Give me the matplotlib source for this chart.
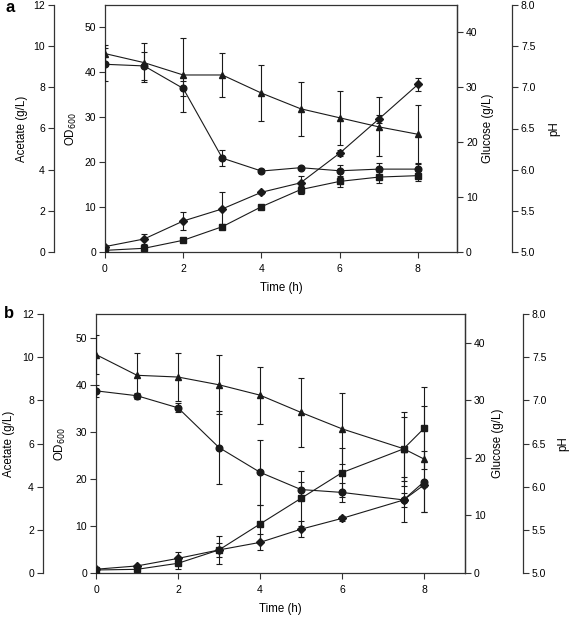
import matplotlib
matplotlib.use("Agg")
import matplotlib.pyplot as plt

plt.rcParams['font.family'] = ['Liberation Sans', 'DejaVu Sans']

# panel a
t_a = [0, 1, 2, 3, 4, 5, 6, 7, 8]
od_a = [1.2, 2.9, 6.9, 9.6, 13.3, 15.4, 22.0, 29.6, 37.3]
od_a_err = [0.3, 1.1, 1.9, 3.8, 0.3, 1.6, 0.7, 0.8, 1.5]
ac_a = [0.08, 0.18, 0.57, 1.23, 2.2, 3.03, 3.43, 3.64, 3.71]
ac_a_err = [0.05, 0.05, 0.1, 0.12, 0.08, 0.2, 0.27, 0.27, 0.28]
glc_a = [34.2, 33.9, 29.8, 17.1, 14.75, 15.36, 14.8, 15.1, 15.1]
glc_a_err = [3.0, 2.6, 1.3, 1.5, 0.4, 0.3, 1.1, 1.1, 1.0]
ph_a = [7.41, 7.30, 7.15, 7.15, 6.93, 6.74, 6.63, 6.52, 6.43]
ph_a_err = [0.11, 0.24, 0.45, 0.27, 0.34, 0.33, 0.33, 0.36, 0.35]

# panel b
t_b = [0, 1, 2, 3, 4, 5, 6, 7.5, 8]
od_b = [0.8, 1.5, 3.1, 4.9, 6.5, 9.3, 11.6, 15.5, 18.7]
od_b_err = [0.3, 0.3, 1.3, 1.4, 1.7, 1.7, 0.6, 1.4, 0.5]
ac_b = [0.14, 0.17, 0.45, 1.07, 2.27, 3.46, 4.65, 5.75, 6.7]
ac_b_err = [0.05, 0.05, 0.27, 0.66, 0.88, 1.26, 1.13, 1.7, 1.9]
glc_b = [31.65, 30.8, 28.7, 21.8, 17.5, 14.5, 14.0, 12.7, 15.85]
glc_b_err = [1.1, 0.5, 0.8, 6.3, 5.6, 1.3, 1.6, 3.9, 5.3]
ph_b = [7.53, 7.29, 7.27, 7.18, 7.06, 6.86, 6.67, 6.44, 6.32]
ph_b_err = [0.23, 0.255, 0.28, 0.34, 0.33, 0.40, 0.41, 0.37, 0.61]

xticks = [0, 2, 4, 6, 8]
od_ticks = [0, 10, 20, 30, 40, 50]
ac_ticks = [0, 2, 4, 6, 8, 10, 12]
glc_ticks = [0, 10, 20, 30, 40]
ph_ticks = [5.0, 5.5, 6.0, 6.5, 7.0, 7.5, 8.0]

lc = '#1a1a1a'
sc = '#333333'
fs_tick = 7.5
fs_lab = 8.3

fig = plt.figure(figsize=(5.72, 6.18), dpi=100)


def series(ax, t, y, e, m, ms):
    ax.errorbar(t, y, yerr=e, color=lc, marker=m, ms=ms, lw=0.8,
                elinewidth=0.8, capsize=2.5, capthick=0.8, mfc=lc, mec=lc)


def style(ax):
    for s in ax.spines.values():
        s.set_color(sc)
        s.set_linewidth(0.9)
    ax.tick_params(axis='y', which='both', direction='out', length=4.5,
                   width=0.8, color=sc, labelsize=fs_tick, pad=2)


def panel(rect, t, od, ode, ac, ace, glc, glce, ph, phe, ac_off, ph_off, lab_x):
    ax = fig.add_axes(rect)
    axg = ax.twinx()
    axa = ax.twinx()
    axp = ax.twinx()

    ax.set_xlim(0, 9)
    ax.set_xticks(xticks)
    ax.set_ylim(0, 55)
    ax.set_yticks(od_ticks)
    axg.set_ylim(0, 45)
    axg.set_yticks(glc_ticks)
    axa.set_ylim(0, 12)
    axa.set_yticks(ac_ticks)
    axp.set_ylim(5, 8)
    axp.set_yticks(ph_ticks)
    axp.set_yticklabels(['%.1f' % v for v in ph_ticks])

    for a in (ax, axg, axa, axp):
        style(a)
    ax.tick_params(axis='x', direction='out', length=4.5, width=0.8, color=sc,
                   labelsize=fs_tick, pad=4)

    axa.spines['left'].set_position(('axes', ac_off))
    axa.yaxis.set_ticks_position('left')
    axa.yaxis.set_label_position('left')
    for s in ('right', 'top', 'bottom'):
        axa.spines[s].set_visible(False)
    axp.spines['right'].set_position(('axes', ph_off))
    for s in ('left', 'top', 'bottom'):
        axp.spines[s].set_visible(False)
    for s in ('left', 'top', 'bottom'):
        axg.spines[s].set_visible(False)

    series(ax, t, od, ode, 'D', 4.2)
    series(axa, t, ac, ace, 's', 4.2)
    series(axg, t, glc, glce, 'o', 4.8)
    series(axp, t, ph, phe, '^', 4.8)

    ax.set_xlabel('Time (h)', fontsize=fs_lab, labelpad=6)
    ax.set_ylabel('OD$_{600}$', fontsize=fs_lab)
    axa.set_ylabel('Acetate (g/L)', fontsize=fs_lab)
    axg.set_ylabel('Glucose (g/L)', fontsize=fs_lab)
    axp.set_ylabel('pH', fontsize=fs_lab)
    ax.yaxis.set_label_coords(lab_x[0], 0.5)
    axa.yaxis.set_label_coords(lab_x[1], 0.5)
    axg.yaxis.set_label_coords(lab_x[2], 0.5)
    axp.yaxis.set_label_coords(lab_x[3], 0.5)
    return ax


panel([105 / 572, 1 - 252 / 618, 352 / 572, 247 / 618],
      t_a, od_a, od_a_err, ac_a, ac_a_err, glc_a, glc_a_err, ph_a, ph_a_err,
      -0.145, 1.156,
      ((79 - 105) / 352, (28 - 105) / 352, (482 - 105) / 352, (548 - 105) / 352))
panel([96 / 572, 1 - 573 / 618, 369 / 572, 259 / 618],
      t_b, od_b, od_b_err, ac_b, ac_b_err, glc_b, glc_b_err, ph_b, ph_b_err,
      -0.1436, 1.157,
      ((68 - 96) / 369, (15 - 96) / 369, (492 - 96) / 369, (557 - 96) / 369))

fig.text(6 / 572, 1 - 8 / 618, 'a', fontsize=12, fontweight='bold', va='center')
fig.text(4 / 572, 1 - 313 / 618, 'b', fontsize=12, fontweight='bold', va='center')

fig.savefig('out.png', dpi=100)
